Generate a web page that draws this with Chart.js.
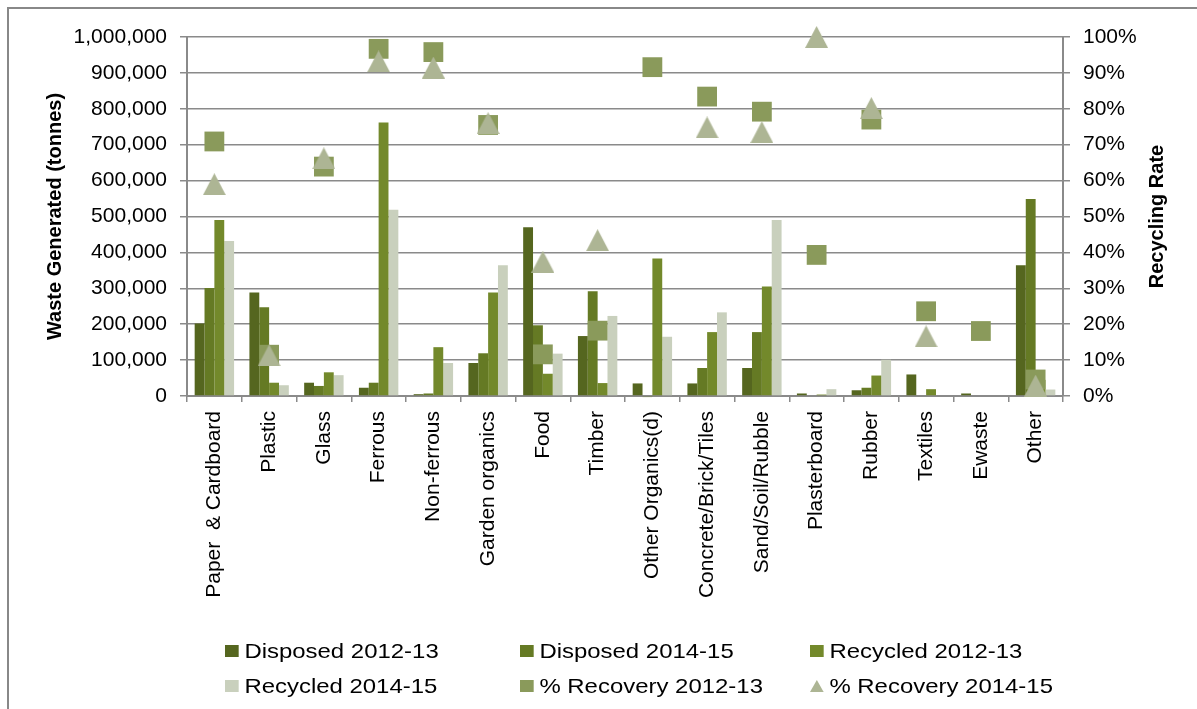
<!DOCTYPE html>
<html>
<head>
  <title>Waste generated and recycling rate</title>
  <script src="https://cdn.jsdelivr.net/npm/chart.js"></script>
  <style>
    body { margin: 0; background: #fff; font-family: 'Liberation Sans', Arial, sans-serif; }
    #wrap { position: relative; width: 1197px; height: 709px; overflow: hidden; }
    #frame { position: absolute; left: 7px; top: 7px; width: 1300px; height: 800px;
             border-left: 2px solid #888; border-top: 2px solid #888; }
    canvas { position: absolute; left: 0; top: 0; }
    .item { position: absolute; display: flex; align-items: center; font-size: 21px; line-height: 24px;
            color: #000; white-space: nowrap; transform: scaleX(1.14); transform-origin: left center; }
    .mark { display: inline-block; width: 12px; height: 12px; margin-right: 5px; }
    .tri { display: inline-block; width: 0; height: 0; margin-right: 5px;
           border-left: 6px solid transparent; border-right: 6px solid transparent; border-bottom: 12px solid; }
  </style>
</head>
<body>
  <div id="wrap">
    <div id="frame"></div>
    <canvas id="waste" width="1197" height="709"></canvas>
    <div id="legend"></div>
  </div>

  <script>
    const categories = ['Paper  & Cardboard', 'Plastic', 'Glass', 'Ferrous', 'Non-ferrous', 'Garden organics',
      'Food', 'Timber', 'Other Organics(d)', 'Concrete/Brick/Tiles', 'Sand/Soil/Rubble', 'Plasterboard',
      'Rubber', 'Textiles', 'Ewaste', 'Other'];

    // tonnes
    const disposed1213 = [202000, 288000, 37000, 23000, 5000, 92000, 470000, 167000, 35000, 35000, 78000, 7000, 16000, 60000, 7000, 364000];
    const disposed1415 = [301000, 247000, 28000, 37000, 7000, 119000, 197000, 292000, -3000, 78000, 178000, 0, 23000, 0, 0, 549000];
    const recycled1213 = [490000, 37000, 66000, 762000, 136000, 288000, 62000, 36000, 383000, 178000, 305000, 4000, 57000, 19000, 0, 45000];
    const recycled1415 = [432000, 30000, 58000, 519000, 92000, 364000, 118000, 223000, 165000, 233000, 490000, 19000, 101000, 0, 0, 18000];

    // percent
    const recovery1213 = [70.9, 11.5, 63.9, 96.7, 95.8, 75.5, 11.6, 18.2, 91.6, 83.4, 79.2, 39.3, 77.0, 23.6, 18.1, 4.6];
    const recovery1415 = [59.0, 11.3, 66.2, 93.2, 91.5, 76.0, 37.4, 43.4, null, 74.8, 73.5, 100, 80.2, 16.6, null, 2.9];

    const gray = '#8a8a8a';
    Chart.defaults.font.family = "'Liberation Sans', Arial, sans-serif";
    Chart.defaults.color = '#000';

    // triangle marker centred on its box, like Excel's
    function triangleMarker(color) {
      const c = document.createElement('canvas');
      c.width = 23; c.height = 22;
      const g = c.getContext('2d');
      g.fillStyle = color;
      g.beginPath();
      g.moveTo(11.5, 0);
      g.lineTo(23, 22);
      g.lineTo(0, 22);
      g.closePath();
      g.fill();
      return c;
    }

    const rightTitle = {
      id: 'rightTitle',
      afterDraw(chart) {
        const ctx = chart.ctx, a = chart.chartArea;
        ctx.save();
        ctx.translate(1157, (a.top + a.bottom) / 2);
        ctx.rotate(-Math.PI / 2);
        ctx.textAlign = 'center';
        ctx.textBaseline = 'middle';
        ctx.font = "bold 20px 'Liberation Sans', Arial, sans-serif";
        ctx.fillStyle = '#000';
        ctx.fillText('Recycling Rate', 0, 0);
        ctx.restore();
      }
    };

    const chart = new Chart(document.getElementById('waste'), {
      type: 'bar',
      data: {
        labels: categories,
        datasets: [
          { label: 'Disposed 2012-13', data: disposed1213, backgroundColor: '#55661f', order: 2 },
          { label: 'Disposed 2014-15', data: disposed1415, backgroundColor: '#657a24', order: 2, clip: false },
          { label: 'Recycled 2012-13', data: recycled1213, backgroundColor: '#73892b', order: 2 },
          { label: 'Recycled 2014-15', data: recycled1415, backgroundColor: '#c9d0bd', order: 2 },
          { type: 'line', label: '% Recovery 2012-13', data: recovery1213, yAxisID: 'y1', showLine: false,
            pointStyle: 'rect', pointRadius: 14, backgroundColor: '#8a9a5b', borderColor: '#8a9a5b',
            borderWidth: 0, order: 1, clip: false },
          { type: 'line', label: '% Recovery 2014-15', data: recovery1415, yAxisID: 'y1', showLine: false,
            pointStyle: triangleMarker('#adb594'), backgroundColor: '#adb594', borderColor: '#adb594',
            borderWidth: 0, order: 0, clip: false }
        ]
      },
      options: {
        responsive: false,
        animation: false,
        layout: { padding: { left: 10, top: 37, right: 0, bottom: 0 } },
        datasets: { bar: { categoryPercentage: 0.72, barPercentage: 1 } },
        plugins: { legend: { display: false }, tooltip: { enabled: false } },
        scales: {
          x: {
            grid: { drawOnChartArea: false, tickLength: 6, color: gray, lineWidth: 1.5, offset: true },
            border: { color: gray, width: 2 },
            ticks: { minRotation: 90, maxRotation: 90, autoSkip: false, padding: 9, font: { size: 21 } },
            afterFit: s => { s.height = 709 - 396; }
          },
          y: {
            position: 'left',
            min: 0, max: 1000000,
            ticks: { stepSize: 100000, padding: 13, font: { size: 21 },
                     callback: v => v.toLocaleString('en-US') },
            grid: { color: gray, lineWidth: 1.5, tickLength: 7 },
            border: { color: gray, width: 2 },
            title: { display: true, text: 'Waste Generated (tonnes)', font: { size: 20, weight: 'bold' },
                     padding: { top: 33, bottom: 0 } },
            afterFit: s => { s.width = 177; }
          },
          y1: {
            position: 'right',
            min: 0, max: 100,
            ticks: { stepSize: 10, padding: 13, font: { size: 21 }, callback: v => v + '%' },
            grid: { drawOnChartArea: false, color: gray, lineWidth: 1.5, tickLength: 7 },
            border: { color: gray, width: 2 },
            afterFit: s => { s.width = 134; }
          }
        }
      },
      plugins: [rightTitle]
    });

    // legend laid out in two rows of three, like the original
    const cols = [225, 520, 810];
    const rows = [639, 674];
    const legend = document.getElementById('legend');
    chart.data.datasets.forEach((ds, i) => {
      const el = document.createElement('div');
      el.className = 'item';
      el.style.left = cols[i % 3] + 'px';
      el.style.top = rows[Math.floor(i / 3)] + 'px';
      const m = document.createElement('span');
      if (i === 5) {
        m.className = 'tri';
        m.style.borderBottomColor = ds.backgroundColor;
      } else {
        m.className = 'mark';
        m.style.background = ds.backgroundColor;
      }
      el.appendChild(m);
      el.appendChild(document.createTextNode(ds.label));
      legend.appendChild(el);
    });
  </script>
</body>
</html>
